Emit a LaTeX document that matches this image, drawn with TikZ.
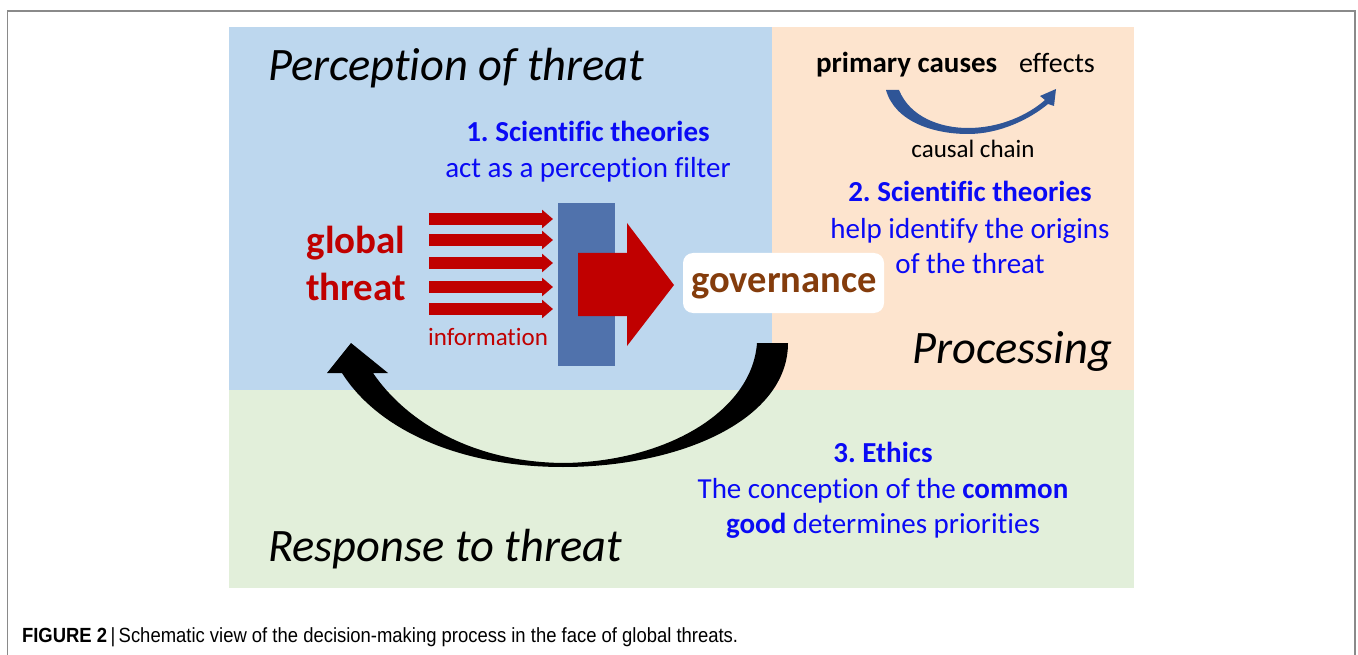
\documentclass[tikz,border=0pt]{standalone}
\usepackage{fontspec}
\setmainfont{Carlito}[Ligatures=NoCommon]
\newfontfamily\capfont[FakeStretch=0.9]{Liberation Sans}
\usetikzlibrary{arrows.meta}
\frenchspacing

\definecolor{panelblue}{HTML}{BDD7EE}
\definecolor{panelorange}{HTML}{FDE4CE}
\definecolor{panelgreen}{HTML}{E2EFDA}
\definecolor{threatred}{HTML}{C00000}
\definecolor{theoryblue}{HTML}{0A0AF5}
\definecolor{filterblue}{HTML}{5072AC}
\definecolor{govbrown}{HTML}{843C0C}
\definecolor{chainblue}{HTML}{2F5597}
\definecolor{framegray}{HTML}{8A8A8A}

\tikzset{
  panel title/.style={font=\fontsize{46.5}{52}\selectfont\itshape, text=black},
  theory head/.style={font=\fontsize{29}{33}\selectfont\bfseries, text=theoryblue},
  theory text/.style={font=\fontsize{29}{33}\selectfont, text=theoryblue},
  threat label/.style={font=\fontsize{39}{44}\selectfont\bfseries, text=threatred},
  info arrow/.style={threatred, line width=12pt,
    -{Triangle[length=11pt, width=18pt]}},
}

\begin{document}
\begin{tikzpicture}[x=1pt, y=-1pt, every node/.style={inner sep=0pt, outer sep=0pt}]
\useasboundingbox (0,0) rectangle (1358,655);

% outer frame (open at the bottom)
\draw[framegray, line width=1.3pt] (7.5,655) -- (7.5,11) -- (1355,11) -- (1355,655);

% the three panels
\fill[panelblue]   (229,27)  rectangle (772,390);
\fill[panelorange] (772,27)  rectangle (1134,390);
\fill[panelgreen]  (229,390) rectangle (1134,588);

% panel titles
\node[panel title, anchor=base west] (perc) at (268,81) {Perception of threat};
\node[panel title, anchor=base east] (proc) at (1112,363) {Processing};
\node[panel title, anchor=base west] (resp) at (268,561) {Response to threat};

% step 1
\node[theory head, anchor=base] (t1) at (588,142) {1. Scientific theories};
\node[theory text, anchor=base] (t1b) at (588,178) {act as a perception filter};

% global threat
\node[threat label, anchor=base] (gl) at (356,254) {global};
\node[threat label, anchor=base] (th) at (356,300) {threat};
\node[font=\fontsize{25}{29}\selectfont, text=threatred, anchor=base] (info) at (488,345) {information};

% perception filter
\node[fill=filterblue, minimum width=57pt, minimum height=163pt, anchor=north west] (filter) at (558,203) {};

% incoming information arrows
\foreach \i/\y in {1/219,2/240,3/263,4/287,5/309}{
  \coordinate (in\i) at (429,\y);
  \coordinate (out\i) at (553,\y);
  \draw[info arrow] (in\i) -- (out\i);
}

% filtered information, passed on to governance
\fill[threatred] (578,253) -- (627,253) -- (627,223) -- (674,285) -- (627,346) -- (627,316) -- (578,316) -- cycle;

% governance
\node[fill=white, rounded corners=10pt, minimum width=201pt, minimum height=60pt, anchor=north west] (govbox) at (683,253) {};
\node[font=\fontsize{38.5}{42}\selectfont\bfseries, text=govbrown, anchor=base] (gov) at (784,293) {governance};

% causal chain
\node[font=\fontsize{29}{33}\selectfont\bfseries, anchor=base west] (pc) at (816,73) {primary causes};
\node[font=\fontsize{28}{32}\selectfont, anchor=base west] (eff) at (1019,73) {effects};
\fill[chainblue] (886,90) .. controls (895,122) and (934,134) .. (968,134)
  .. controls (1000,134) and (1030,119) .. (1048,104)
  -- (1054,106) -- (1056,89) -- (1040,96) -- (1045,100)
  .. controls (1028,115) and (1000,128) .. (968,128)
  .. controls (940,128) and (910,117) .. (899,90) -- cycle;
\node[font=\fontsize{25}{29}\selectfont, anchor=base] (cc) at (973,158) {causal chain};

% step 2
\node[theory head, anchor=base] (t2) at (970,202) {2. Scientific theories};
\node[theory text, anchor=base] (t2b) at (970,239) {help identify the origins};
\node[theory text, anchor=base] (t2c) at (970,274) {of the threat};

% response: feedback arrow back to the threat
\fill[black] (788,343) .. controls (788,420) and (680,467) .. (563,467)
  .. controls (460,467) and (378,430) .. (342,373)
  -- (327,373) -- (351,343) -- (388,373) -- (373,373)
  .. controls (405,420) and (470,462) .. (563,463)
  .. controls (665,462) and (752,412) .. (757,343) -- cycle;

% step 3
\node[theory head, anchor=base] (t3) at (883,462) {3. Ethics};
\node[theory text, anchor=base] (t3b) at (883,498) {The conception of the \textbf{common}};
\node[theory text, anchor=base] (t3c) at (883,533) {\textbf{good} determines priorities};

% caption
\node[font=\capfont\fontsize{20.5}{23}\selectfont, anchor=base west] (cap) at (22,642)
  {\textbf{FIGURE 2}\,|\,Schematic view of the decision-making process in the face of global threats.};
\end{tikzpicture}
\end{document}
